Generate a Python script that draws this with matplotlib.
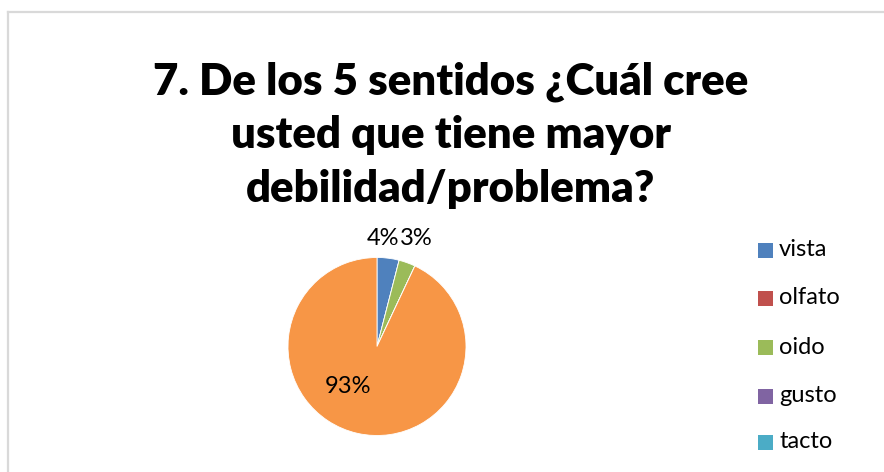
import matplotlib
matplotlib.use("Agg")
import matplotlib.pyplot as plt
from matplotlib.patches import Rectangle
from matplotlib.lines import Line2D

# Survey answers: which of the five senses shows the most weakness
categories = ["vista", "olfato", "oido", "gusto", "tacto", "otro"]
percentages = [4, 0, 3, 0, 0, 93]
legend_categories = ["vista", "olfato", "oido", "gusto", "tacto"]
colors = ["#4F81BD", "#C0504D", "#9BBB59", "#8064A2", "#4BACC6", "#F79646"]
title_lines = ["7. De los 5 sentidos ¿Cuál cree",
               "usted que tiene mayor",
               "debilidad/problema?"]

W, H = 884, 472
fig = plt.figure(figsize=(W / 100, H / 100), dpi=100)
fig.patch.set_facecolor("white")
FONT = "Lato"

def px(x, y):
    """pixel position (top-left origin) -> figure fraction"""
    return x / W, 1 - y / H

# chart-area frame (left and top edges)
frame_col = "#D9D9D9"
fig.add_artist(Line2D([8 / W, 8 / W], [0, 1 - 12 / H], color=frame_col, lw=1.6,
                      transform=fig.transFigure))
fig.add_artist(Line2D([8 / W, 1], [1 - 12 / H, 1 - 12 / H], color=frame_col, lw=1.6,
                      transform=fig.transFigure))

# title, three centred bold lines
baselines = [94, 148, 202]
for line, yb in zip(title_lines, baselines):
    fig.text(*px(451, yb), line, ha="center", va="baseline", fontsize=31.5,
             fontweight="heavy", family=FONT, color="black")

# pie
cx, cy, r = 377, 346.5, 89
ax = fig.add_axes([(cx - r) / W, (H - cy - r) / H, 2 * r / W, 2 * r / H])
wedges, _ = ax.pie(percentages, colors=colors, startangle=90, counterclock=False,
                   radius=1.0, wedgeprops=dict(linewidth=0.6, edgecolor="white"))
ax.set_xlim(-1, 1)
ax.set_ylim(-1, 1)
ax.set_aspect("equal")
ax.axis("off")

# data labels (only non-zero slices)
label_pos = {0: (0.07, 1.21), 2: (0.44, 1.21), 5: (-0.33, -0.45)}
for i, (dx, dy) in label_pos.items():
    ax.text(dx, dy, f"{percentages[i]}%", ha="center", va="center",
            fontsize=17, family=FONT, color="black")

# legend
rows = [250, 298, 347, 396, 442]
for name, col, yc in zip(legend_categories, colors, rows):
    x0, y0 = px(758, yc + 7.5)
    fig.add_artist(Rectangle((x0, y0), 15 / W, 15 / H, facecolor=col,
                             edgecolor="none", transform=fig.transFigure))
    fig.text(*px(779, yc), name, ha="left", va="center", fontsize=17,
             family=FONT, color="black")

fig.savefig("out.png", dpi=100, facecolor="white")
